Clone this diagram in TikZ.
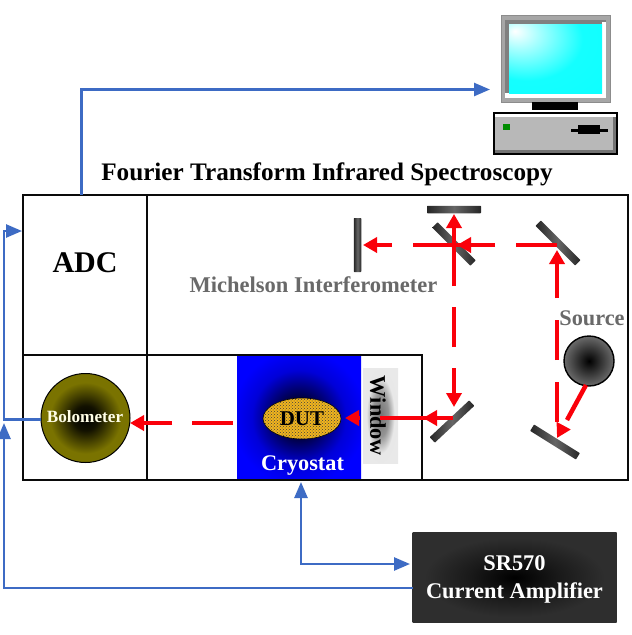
\documentclass[tikz,border=0pt]{standalone}
\usepackage{fontspec}
\setmainfont{Liberation Serif}
\usetikzlibrary{arrows.meta,calc,shapes.geometric,patterns}
\definecolor{linkblue}{RGB}{61,107,196}
\definecolor{beamred}{RGB}{250,0,10}
\definecolor{caseline}{RGB}{10,10,10}
\definecolor{labelgrey}{RGB}{105,105,105}
\definecolor{dutfill}{RGB}{240,180,30}
\definecolor{boloedge}{RGB}{122,115,0}
\pgfdeclareradialshading{screenglow}{\pgfpoint{-22bp}{20bp}}{color(0bp)=(white); color(11bp)=(cyan!35!white); color(30bp)=(cyan!92!white); color(100bp)=(cyan)}
\pgfdeclareradialshading{cryoglow}{\pgfpoint{0bp}{0bp}}{color(0bp)=(black!85!blue); color(8bp)=(black!75!blue); color(19bp)=(blue!85!black); color(27bp)=(blue); color(100bp)=(blue)}
\pgfdeclareradialshading{bologlow}{\pgfpoint{0bp}{0bp}}{color(0bp)=(black); color(7bp)=(black!85!boloedge); color(20bp)=(boloedge); color(100bp)=(boloedge)}
\pgfdeclareradialshading{ampglow}{\pgfpoint{0bp}{0bp}}{color(0bp)=(black); color(11bp)=(black!90); color(22bp)=(black!82); color(100bp)=(black!82)}
\pgfdeclareradialshading{srcglow}{\pgfpoint{0bp}{0bp}}{color(0bp)=(black); color(25bp)=(black!58); color(100bp)=(black!58)}
\pgfdeclareradialshading{winglow}{\pgfpoint{0bp}{0bp}}{color(0bp)=(black!55); color(11bp)=(black!42); color(20bp)=(black!9); color(100bp)=(black!6)}
\tikzset{
  x=1pt,y=-1pt,
  link/.style={draw=linkblue,line width=2.5pt,line join=miter},
  linkarrow/.style={link,-{Triangle[length=16pt,width=13pt]}},
  linkboth/.style={link,{Triangle[length=16pt,width=13pt]}-{Triangle[length=16pt,width=13pt]}},
  beam/.style={draw=beamred,line width=4.5pt},
  beamarrow/.style={beam,-{Triangle[length=14pt,width=15pt]}},
  frameline/.style={draw=caseline,line width=2.8pt},
  mirror/.style={inner sep=0pt,minimum width=#1,minimum height=7.5pt,rounded corners=0.6pt,
    shade,left color=black!85,right color=black!85,middle color=black!60},
}
\begin{document}
\begin{tikzpicture}
\useasboundingbox (0,0) rectangle (632,635);
\fill[white] (0,0) rectangle (632,635);

% computer
\fill[black!35] (501,15) rectangle (610,102);
\fill[black!50] (505,20) rectangle (606,97);
\fill[white] (505,93) rectangle (606,98);
\fill[white] (602,22) rectangle (606,98);
\shade[shading=screenglow] (509,24) rectangle (602,93);
\draw[black!45,line width=0.8pt] (501,15) rectangle (610,102);
\fill[black] (532,102) rectangle (578,110);
\fill[black!28] (494,113) rectangle (617,154);
\fill[white] (495,114) rectangle (616,117);
\fill[black!55] (613,117) rectangle (616,153);
\fill[black!55] (495,150) rectangle (616,153);
\draw[black,line width=1.3pt] (494,113) rectangle (617,154);
\fill[green!55!black] (503,123.5) rectangle (510,130);
\fill[black] (571,128.5) rectangle (608,131.5);
\fill[black] (578,125) rectangle (600,134);

% cryostat
\node[minimum width=124pt,minimum height=125pt,inner sep=0pt,shade,shading=cryoglow] (cryostat) at (299,417.5) {};
\node[font=\bfseries\fontsize{22.3}{24}\selectfont,text=white] (cryolabel) at (302.5,466) {Cryostat};

% spectrometer case
\draw[frameline] (23,195) rectangle (628,480);
\draw[frameline] (147,195) -- (147,480);
\draw[frameline] (23,355) -- (422,355) -- (422,480);

% sample under test
\node[ellipse,draw=black,line width=0.6pt,minimum width=78pt,minimum height=41pt,inner sep=0pt,fill=dutfill,
  postaction={pattern=crosshatch dots,pattern color=black!75}] (dut) at (302,418.5) {};
\node[font=\bfseries\fontsize{21}{24}\selectfont] (dutlabel) at (dut.center) {DUT};

% window
\shade[shading=winglow] (363,368) rectangle (398,463);
\node[rotate=-90,font=\bfseries\fontsize{22.3}{24}\selectfont] (window) at (378,416) {Window};

% bolometer
\node[circle,draw=black,line width=1pt,minimum size=89pt,inner sep=0pt,shade,shading=bologlow] (bolo) at (85.5,418) {};
\node[text=white!90!yellow,font=\bfseries\fontsize{17.2}{18}\selectfont] (bololabel) at (85,417) {Bolometer};

% source
\node[circle,draw=black,line width=1.4pt,minimum size=50pt,inner sep=0pt,shade,shading=srcglow] (source) at (589,361) {};
\node[font=\bfseries\fontsize{22.3}{24}\selectfont,text=labelgrey] (sourcelabel) at (592,318) {Source};

% mirrors
\node[mirror=54pt,rotate=90] (mleft) at (357.5,245) {};
\node[mirror=54pt] (mtop) at (454,209.5) {};
\node[mirror=54pt,rotate=-45] (bs) at (454,244) {};
\node[mirror=56pt,rotate=-45] (mright) at (558,243) {};
\node[mirror=54pt,rotate=43] (mlow) at (452,421.5) {};
\node[mirror=54pt,rotate=-32] (mbot) at (555,442) {};

% beam path
\coordinate (srcexit) at (586,385);
\draw[beam] (srcexit) -- (567,420);
\draw[beamarrow] (563.5,426) -- (557,438);

\draw[beam] (557,422) -- (557,382);
\draw[beam] (557,360) -- (557,320);
\draw[beamarrow] (557,298) -- (557,250);

\draw[beam] (557,245) -- (516,245);
\draw[beam] (495,245) -- (413,245);
\draw[beamarrow] (470,245) -- (457,245);
\draw[beamarrow] (392,245) -- (363,245);

\draw[beamarrow] (454,286) -- (454,214);
\draw[beam] (454,347) -- (454,307);
\draw[beamarrow] (454,368) -- (454,407);

\draw[beam] (453,418) -- (380,418);
\draw[beamarrow] (438,418) -- (423,418);
\draw[beamarrow] (360,418) -- (345,418);

\draw[beam] (233,423) -- (192,423);
\draw[beamarrow] (172,423) -- (130,423);

% amplifier
\node[minimum width=204pt,minimum height=90pt,inner sep=0pt,shade,shading=ampglow] (amp) at (514.5,577.5) {};
\node[text=white,font=\bfseries\fontsize{22.4}{28}\selectfont,align=center] (amplabel) at (514.5,579.5) {SR570\\Current Amplifier};

% signal wiring
\coordinate (leftbus) at (4,588);
\coordinate (busturn) at (4,231);
\coordinate (adcin) at (22,231);
\coordinate (pcin) at (490,89.5);
\coordinate (adcout) at (81.5,195);
\coordinate (ampbus) at (413,588);
\coordinate (boloturn) at (4,419.5);
\coordinate (cryoin) at (301,482);
\coordinate (ampin) at (410,564);
\draw[linkarrow] (adcout) |- (pcin);
\draw[linkarrow] (bolo.west |- boloturn) -- (boloturn) -- (busturn) -- (adcin);
\draw[linkarrow] (ampbus) -- (leftbus) -- (4,423);
\draw[linkboth] (cryoin) |- (ampin);

% titles
\node[font=\bfseries\fontsize{25.2}{28}\selectfont] (title) at (327,174) {Fourier Transform Infrared Spectroscopy};
\node[font=\bfseries\fontsize{22.5}{24}\selectfont,text=labelgrey] (michelson) at (313.5,285) {Michelson Interferometer};
\node[font=\bfseries\fontsize{30}{30}\selectfont] (adc) at (85,262.5) {ADC};
\end{tikzpicture}
\end{document}
